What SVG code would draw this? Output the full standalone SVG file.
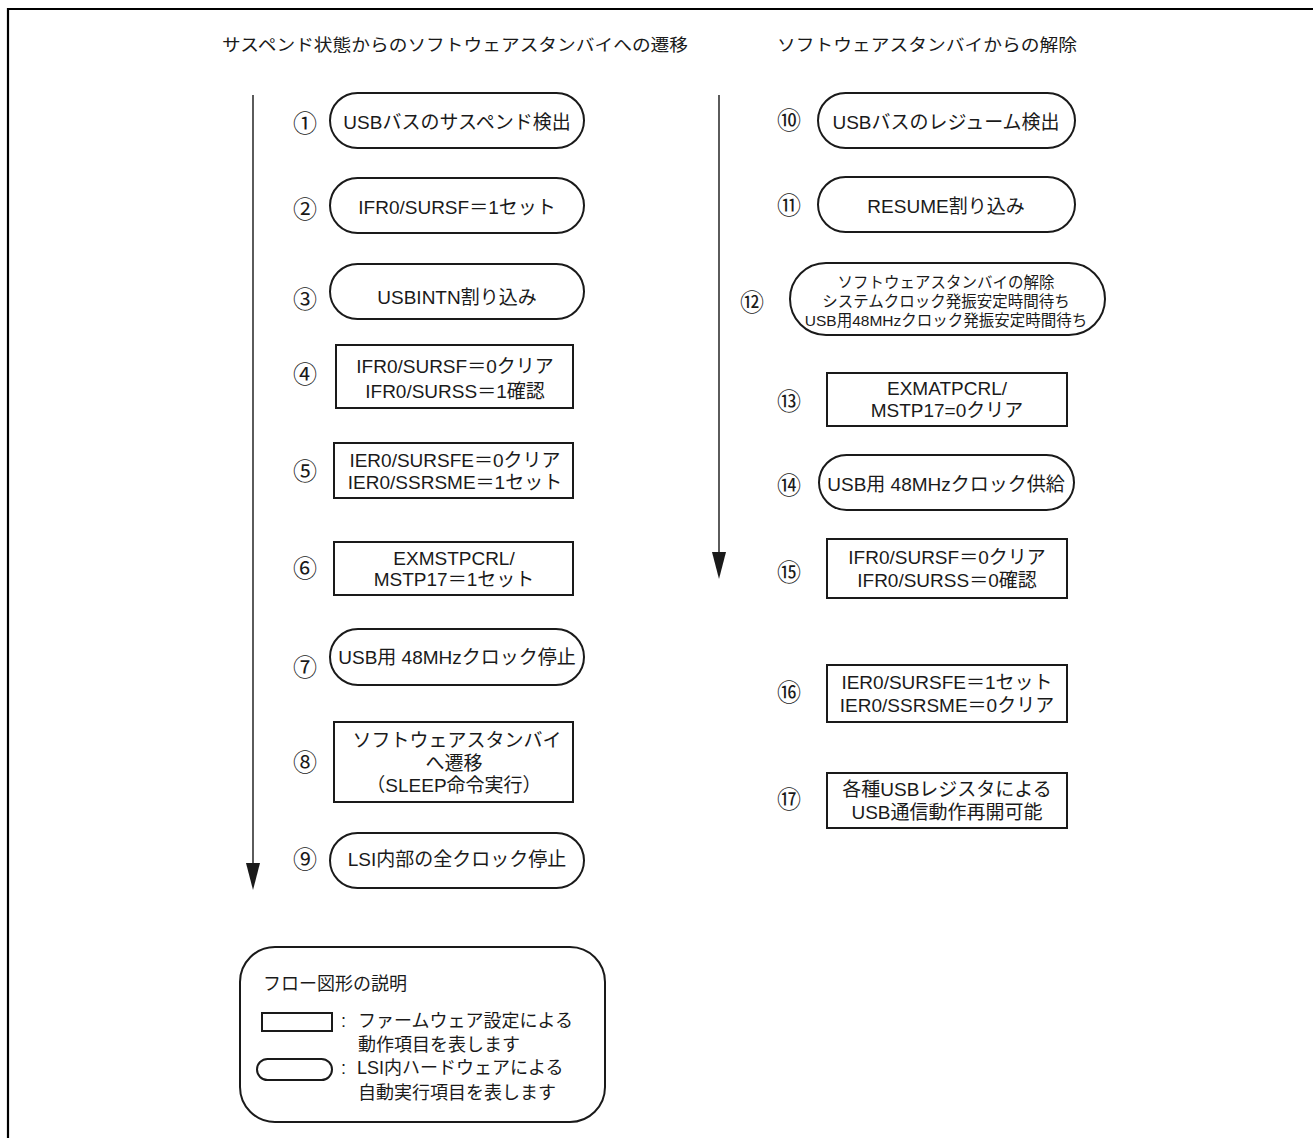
<svg xmlns="http://www.w3.org/2000/svg" width="1313" height="1138" viewBox="0 0 1313 1138">
<style>
text{font-family:"Liberation Sans","Noto Sans CJK JP",sans-serif;fill:#1a1a1a;dominant-baseline:central}
.t{font-size:19px;text-anchor:middle}
.s{font-size:15.5px;text-anchor:middle}
.n{font-size:24px;text-anchor:middle;font-family:"Noto Sans CJK JP",sans-serif}
.h{font-size:16.5px}
.l{font-size:18px}
.box{fill:#fff;stroke:#1a1a1a;stroke-width:2}
.conn{stroke:#333;stroke-width:1.6;fill:none}
</style>
<rect width="1313" height="1138" fill="#fff"/>
<polyline points="1313,9 8,9 8,1138" fill="none" stroke="#000" stroke-width="2.2"/>
<g id="headers">
<text class="h" x="222" y="45" textLength="466" lengthAdjust="spacingAndGlyphs">サスペンド状態からのソフトウェアスタンバイへの遷移</text>
<text class="h" x="777" y="45" textLength="300" lengthAdjust="spacingAndGlyphs">ソフトウェアスタンバイからの解除</text>
</g>
<g id="connectors">
<line class="conn" x1="253" y1="95" x2="253" y2="864"/>
<polygon points="246,863 260,863 253,890" fill="#1a1a1a"/>
<line class="conn" x1="719" y1="95" x2="719" y2="553"/>
<polygon points="712,552 726,552 719,579" fill="#1a1a1a"/>
</g>
<g id="n1"><text class="n" x="305" y="121">①</text><rect class="box" x="330" y="93" width="254" height="55" rx="27.5"/><text class="t" x="457" y="122">USBバスのサスペンド検出</text></g>
<g id="n2"><text class="n" x="305" y="207">②</text><rect class="box" x="330" y="178" width="254" height="55" rx="27.5"/><text class="t" x="457" y="207">IFR0/SURSF＝1セット</text></g>
<g id="n3"><text class="n" x="305" y="297">③</text><rect class="box" x="330" y="264" width="254" height="55" rx="27.5"/><text class="t" x="457" y="297">USBINTN割り込み</text></g>
<g id="n4"><text class="n" x="305" y="372">④</text><rect class="box" x="336" y="345" width="237" height="63"/><text class="t" x="455" y="366">IFR0/SURSF＝0クリア</text><text class="t" x="455" y="391">IFR0/SURSS＝1確認</text></g>
<g id="n5"><text class="n" x="305" y="469">⑤</text><rect class="box" x="334" y="443" width="239" height="55"/><text class="t" x="455" y="460">IER0/SURSFE＝0クリア</text><text class="t" x="455" y="482">IER0/SSRSME＝1セット</text></g>
<g id="n6"><text class="n" x="305" y="566">⑥</text><rect class="box" x="334" y="542" width="239" height="53"/><text class="t" x="454" y="558">EXMSTPCRL/</text><text class="t" x="454" y="579">MSTP17＝1セット</text></g>
<g id="n7"><text class="n" x="305" y="665">⑦</text><rect class="box" x="330" y="629" width="254" height="56" rx="28"/><text class="t" x="457" y="657">USB用 48MHzクロック停止</text></g>
<g id="n8"><text class="n" x="305" y="760">⑧</text><rect class="box" x="334" y="722" width="239" height="80"/><text class="t" x="457" y="740">ソフトウェアスタンバイ</text><text class="t" x="454" y="763">へ遷移</text><text class="t" x="454" y="785">（SLEEP命令実行）</text></g>
<g id="n9"><text class="n" x="305" y="857">⑨</text><rect class="box" x="330" y="833" width="254" height="55" rx="27.5"/><text class="t" x="457" y="859">LSI内部の全クロック停止</text></g>
<g id="n10"><text class="n" x="789" y="118">⑩</text><rect class="box" x="818" y="93" width="257" height="55" rx="27.5"/><text class="t" x="946" y="122">USBバスのレジューム検出</text></g>
<g id="n11"><text class="n" x="789" y="203">⑪</text><rect class="box" x="818" y="177" width="257" height="55" rx="27.5"/><text class="t" x="946" y="206">RESUME割り込み</text></g>
<g id="n12"><text class="n" x="752" y="300">⑫</text><rect class="box" x="790" y="263" width="315" height="72" rx="36"/><text class="s" x="946" y="282">ソフトウェアスタンバイの解除</text><text class="s" x="946" y="301">システムクロック発振安定時間待ち</text><text class="s" x="946" y="320">USB用48MHzクロック発振安定時間待ち</text></g>
<g id="n13"><text class="n" x="789" y="399">⑬</text><rect class="box" x="827" y="373" width="240" height="53"/><text class="t" x="947" y="388">EXMATPCRL/</text><text class="t" x="947" y="410">MSTP17=0クリア</text></g>
<g id="n14"><text class="n" x="789" y="483">⑭</text><rect class="box" x="819" y="455" width="255" height="55" rx="27.5"/><text class="t" x="946" y="484">USB用 48MHzクロック供給</text></g>
<g id="n15"><text class="n" x="789" y="570">⑮</text><rect class="box" x="827" y="539" width="240" height="59"/><text class="t" x="947" y="557">IFR0/SURSF＝0クリア</text><text class="t" x="947" y="580">IFR0/SURSS＝0確認</text></g>
<g id="n16"><text class="n" x="789" y="690">⑯</text><rect class="box" x="827" y="665" width="240" height="57"/><text class="t" x="947" y="682">IER0/SURSFE＝1セット</text><text class="t" x="947" y="705">IER0/SSRSME＝0クリア</text></g>
<g id="n17"><text class="n" x="789" y="797">⑰</text><rect class="box" x="827" y="773" width="240" height="55"/><text class="t" x="947" y="789">各種USBレジスタによる</text><text class="t" x="947" y="812">USB通信動作再開可能</text></g>
<g id="legend">
<rect class="box" x="240" y="947" width="365" height="175" rx="35" stroke-width="1.6"/>
<text class="l" x="263" y="984">フロー図形の説明</text>
<rect class="box" x="262" y="1013" width="70" height="18"/>
<text class="l" x="341" y="1021">:</text><text class="l" x="358" y="1021">ファームウェア設定による</text>
<text class="l" x="358" y="1045">動作項目を表します</text>
<rect class="box" x="257" y="1059" width="75" height="21" rx="10.5"/>
<text class="l" x="341" y="1068">:</text><text class="l" x="357" y="1068">LSI内ハードウェアによる</text>
<text class="l" x="358" y="1093">自動実行項目を表します</text>
</g>
</svg>
